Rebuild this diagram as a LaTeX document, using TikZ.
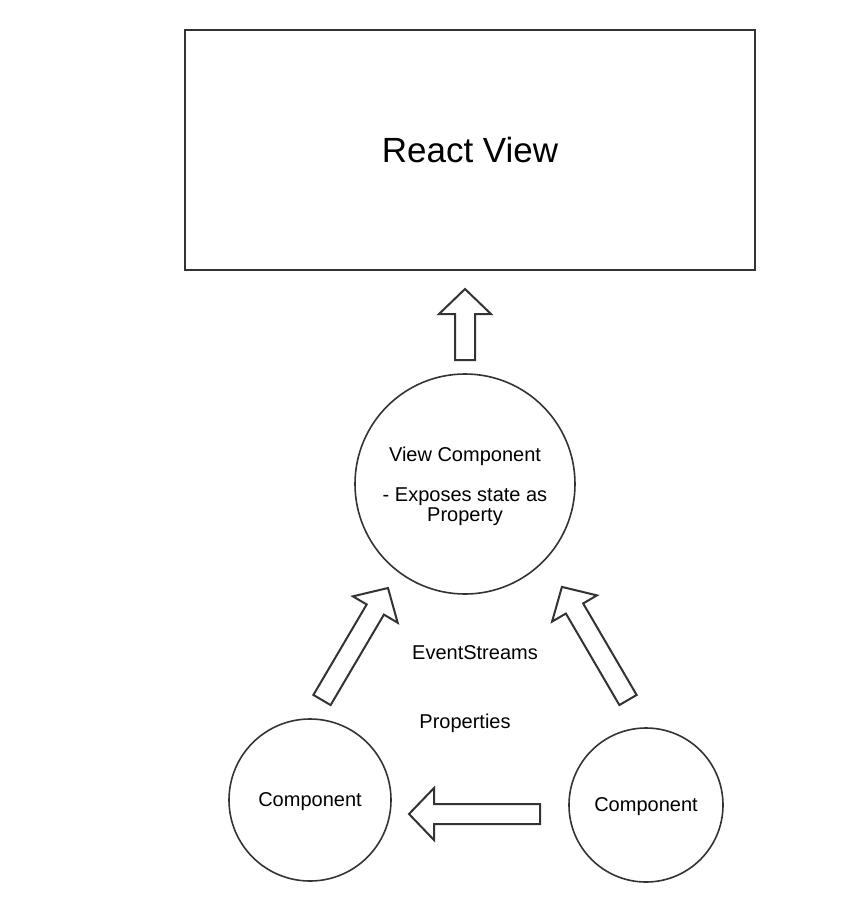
\documentclass[tikz,border=0pt]{standalone}
\usepackage{fontspec}
\setmainfont{Liberation Sans}

\definecolor{linegray}{HTML}{333333}

\tikzset{
  arrowline/.style={draw=linegray, line width=1pt, fill=white, line join=miter},
  pics/fatarrow/.style={code={
    \draw[arrowline] (-10,0) -- (-10,#1-25) -- (-26,#1-25) -- (0,#1) -- (26,#1-25) -- (10,#1-25) -- (10,0) -- cycle;
  }}
}

\begin{document}
\begin{tikzpicture}[x=0.5pt,y=0.5pt,
    viewbox/.style={draw=linegray, line width=1pt, minimum width=285pt, minimum height=120pt, font=\fontsize{17.5}{21}\selectfont},
    comp/.style={circle, draw=linegray, line width=0.8pt, align=center, inner sep=0pt, text depth=0pt, font=\fontsize{10}{10}\selectfont},
    flowtext/.style={font=\fontsize{10}{12}\selectfont}]
    \useasboundingbox (0,0) rectangle (844,-900);
    \node[viewbox] (reactview) at (470,-150) {React View}; % top box
    \node[comp, minimum size=110pt] (viewcomp) at (465,-484) {View Component\\[10pt]- Exposes state as\\Property}; % middle circle
    \node[comp, minimum size=81pt] (compleft) at (310,-800) {Component}; % left circle
    \node[comp, minimum size=77pt] (compright) at (646,-805) {Component}; % right circle
    \node[flowtext] (events) at (475,-653) {EventStreams};
    \node[flowtext] (props) at (465,-723) {Properties};
    % block arrows
    \coordinate (upbase) at (465,-360);
    \coordinate (leftbase) at (322,-700);
    \coordinate (rightbase) at (628,-700);
    \coordinate (propbase) at (540,-814);
    \pic at (upbase) {fatarrow=71}; % view component to react view
    \pic[rotate=-30.5] at (leftbase) {fatarrow=130};
    \pic[rotate=30.3] at (rightbase) {fatarrow=131};
    \pic[rotate=90] at (propbase) {fatarrow=131}; % properties
\end{tikzpicture}
\end{document}
